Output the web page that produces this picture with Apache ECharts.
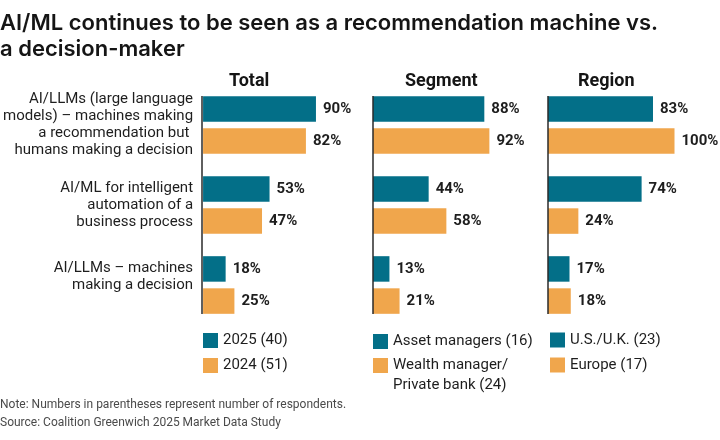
<!DOCTYPE html>
<html>
<head>
<meta charset="utf-8">
<script src="https://cdn.jsdelivr.net/npm/echarts@6/dist/echarts.min.js"></script>
<style>
  html, body { margin: 0; padding: 0; background: #fff; }
  #chart { width: 720px; height: 440px; }
</style>
</head>
<body>
<div id="chart"></div>
<script>
const categories = [
  "AI/LLMs (large language\nmodels) – machines making\na recommendation but \nhumans making a decision",
  "AI/ML for intelligent\nautomation of a\nbusiness process",
  "AI/LLMs – machines\nmaking a decision"
]

const panelTitles = ["Total", "Segment", "Region"]

const total2025 = [90, 53, 18]
const total2024 = [82, 47, 25]
const assetManagers = [88, 44, 13]
const wealthManagers = [92, 58, 21]
const usUk = [83, 74, 17]
const europe = [100, 24, 18]

const seriesNames = [
  ["2025 (40)", "2024 (51)"],
  ["Asset managers (16)", "Wealth manager/\nPrivate bank (24)"],
  ["U.S./U.K. (23)", "Europe (17)"]
]
const panelValues = [
  [total2025, total2024],
  [assetManagers, wealthManagers],
  [usUk, europe]
]

const TEAL = "#036f88"
const ORANGE = "#f0a64c"
const FONT = "Roboto, 'Noto Sans', sans-serif"
const WIDE_FONT = "Inter, Roboto, sans-serif"

const gridLefts = [202, 373, 548]
const titleLefts = [229, 405, 578]
const barSpan = 126.5

const chart = echarts.init(document.getElementById("chart"), null, { renderer: "canvas" })

const grids = gridLefts.map((left) => ({ left, top: 85, width: barSpan, height: 240 }))

const xAxes = gridLefts.map((_, i) => ({
  type: "value",
  gridIndex: i,
  min: 0,
  max: 100,
  show: false
}))

const yAxes = gridLefts.map((_, i) => ({
  type: "category",
  gridIndex: i,
  data: categories,
  inverse: true,
  axisLine: { show: false },
  axisTick: { show: false },
  axisLabel: {
    show: i === 0,
    margin: 10,
    color: "#1e1e1e",
    fontFamily: FONT,
    fontSize: 15,
    lineHeight: 17,
    align: "right",
    // last label sits a little higher than its bar pair
    formatter: (value, index) => (index === 2 ? value + "\n " : value)
  }
}))

const series = []
panelValues.forEach((pair, i) => {
  pair.forEach((values, j) => {
    series.push({
      name: seriesNames[i][j],
      type: "bar",
      xAxisIndex: i,
      yAxisIndex: i,
      data: values,
      barWidth: 25.5,
      barGap: "26%",
      itemStyle: { color: j === 0 ? TEAL : ORANGE },
      label: {
        show: true,
        position: "right",
        distance: 7,
        formatter: "{c}%",
        color: "#1e1e1e",
        fontFamily: FONT,
        fontWeight: "bold",
        fontSize: 15
      }
    })
  })
})

const legendBase = {
  orient: "vertical",
  padding: 0,
  itemWidth: 15,
  itemHeight: 15,
  itemGap: 9,
  icon: "rect",
  textStyle: { color: "#1e1e1e", fontFamily: FONT, fontSize: 15, lineHeight: 16 }
}

const legends = [
  { ...legendBase, left: 203, top: 332.5, data: seriesNames[0] },
  { ...legendBase, left: 373, top: 333.5, data: [seriesNames[1][0]] },
  {
    ...legendBase,
    left: 373,
    top: 335.5,
    data: [seriesNames[1][1]],
    // blank first line keeps the icon level with "Wealth manager/"
    formatter: (name) => " \n" + name,
    textStyle: { ...legendBase.textStyle, lineHeight: 20 }
  },
  { ...legendBase, left: 550, top: 332, data: seriesNames[2] }
]

const titles = [
  {
    text: "AI/ML continues to be seen as a recommendation machine vs.\na decision-maker",
    left: 0,
    top: 10,
    padding: 0,
    textStyle: { color: "#151515", fontFamily: WIDE_FONT, fontSize: 22, fontWeight: 600, lineHeight: 26 }
  },
  ...panelTitles.map((text, i) => ({
    text,
    left: titleLefts[i],
    top: 72,
    padding: 0,
    textStyle: { color: "#151515", fontFamily: FONT, fontSize: 18, fontWeight: "bold" }
  })),
  {
    text: "Note: Numbers in parentheses represent number of respondents.\nSource: Coalition Greenwich 2025 Market Data Study",
    left: 0,
    top: 396,
    padding: 0,
    textStyle: { color: "#4a4a4a", fontFamily: FONT, fontSize: 12, fontWeight: "normal", lineHeight: 18 }
  }
]

// vertical baselines drawn only along the bars, as in the original
const baselines = gridLefts.map((x) => ({
  type: "line",
  shape: { x1: x, y1: 96, x2: x, y2: 314 },
  style: { stroke: "#2a2a2a", lineWidth: 1.5 },
  z: 10
}))

chart.setOption({
  animation: false,
  title: titles,
  legend: legends,
  grid: grids,
  xAxis: xAxes,
  yAxis: yAxes,
  series,
  graphic: baselines
})
</script>
</body>
</html>
